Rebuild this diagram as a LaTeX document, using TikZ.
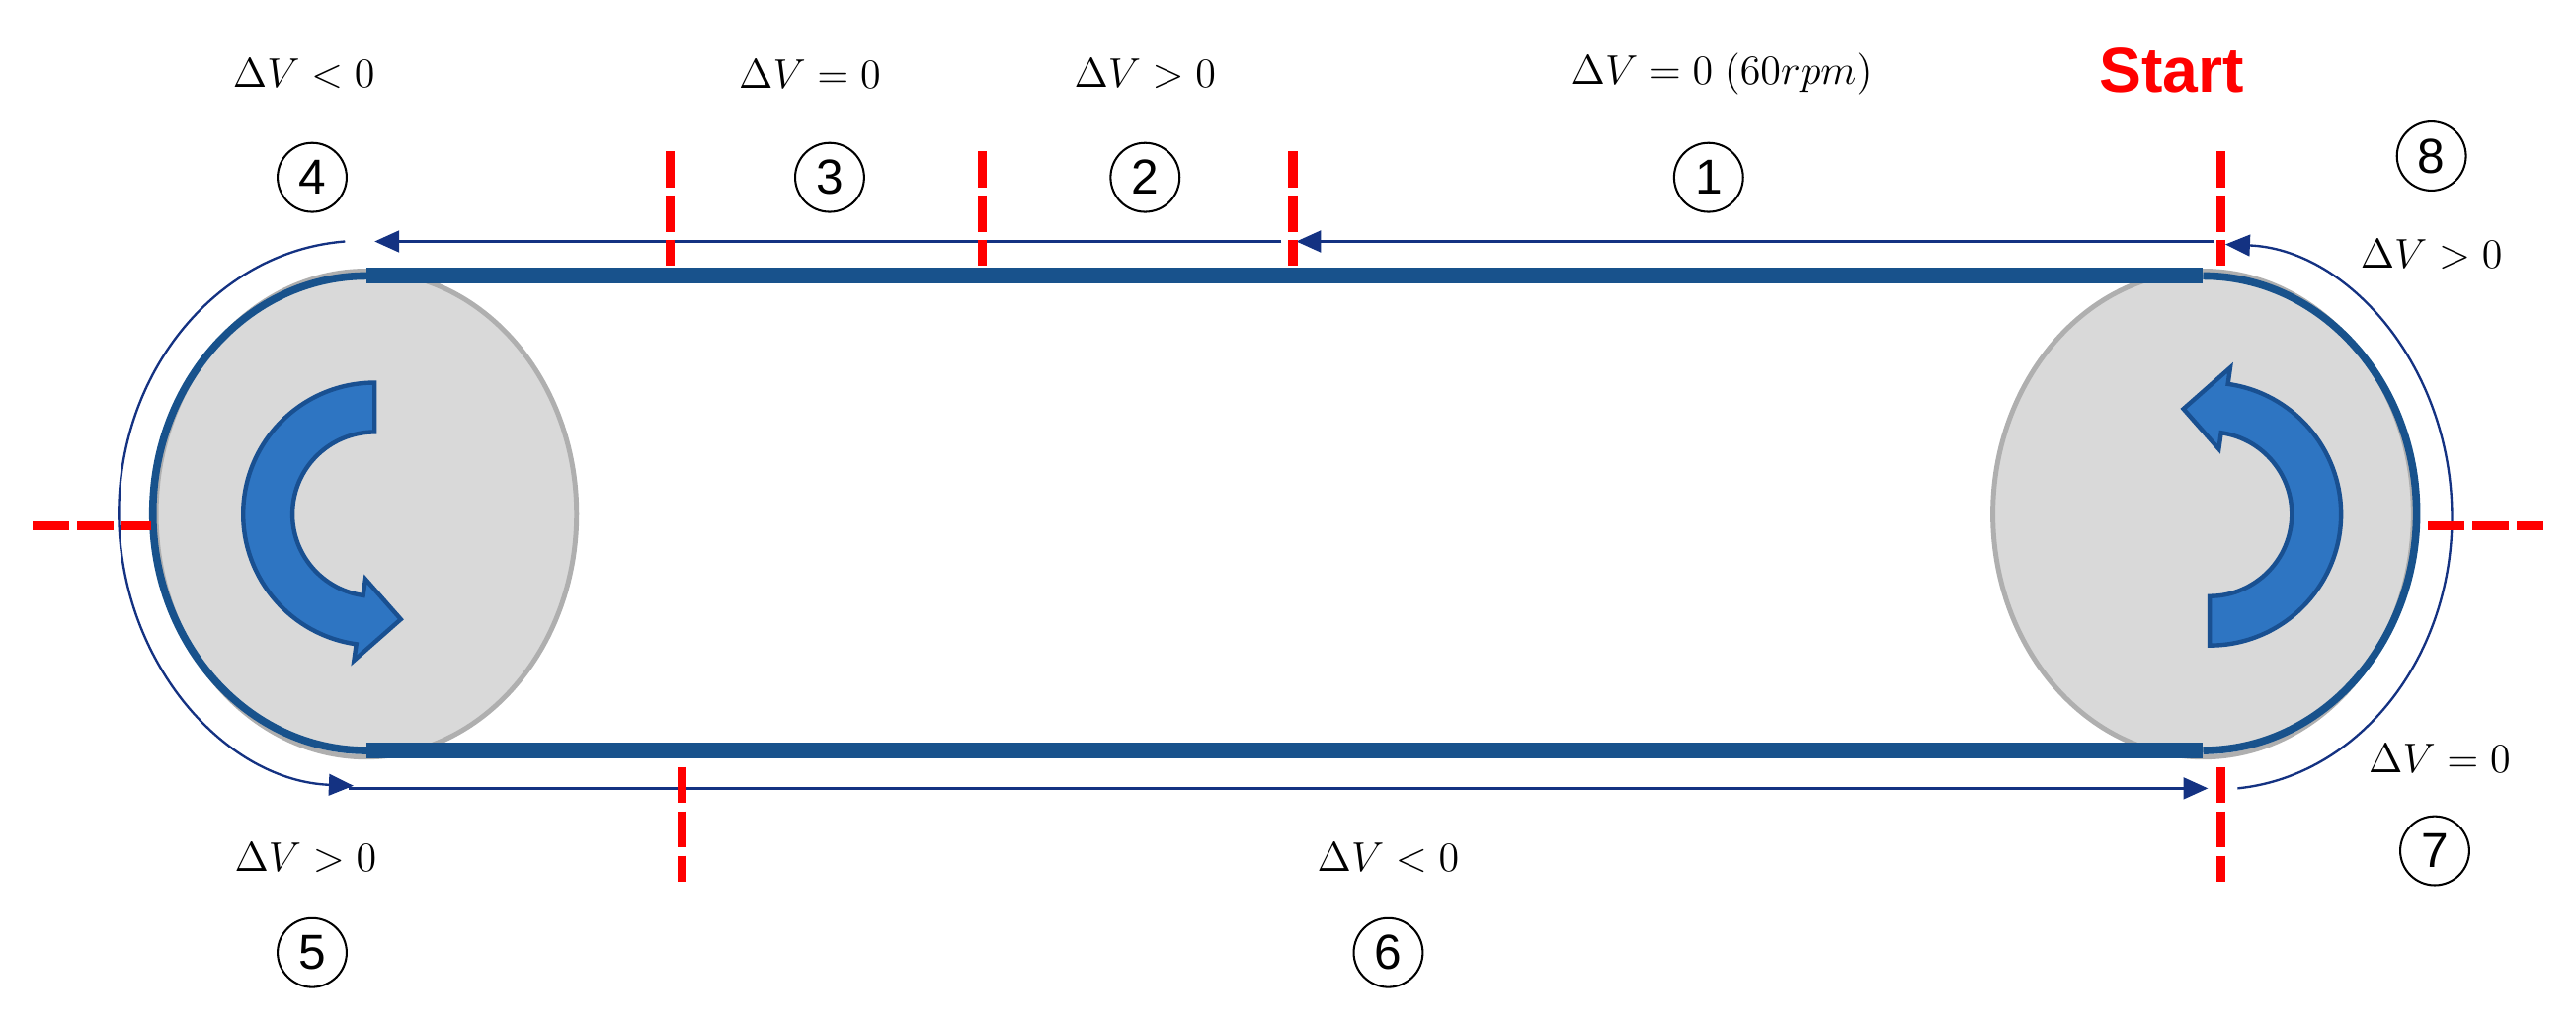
\documentclass[tikz,border=0pt]{standalone}
\usepackage{fontspec}
\setsansfont{Liberation Sans}
\usetikzlibrary{arrows.meta}
\definecolor{beltblue}{RGB}{24,82,140}
\definecolor{thinblue}{RGB}{20,50,130}
\definecolor{rarrow}{RGB}{46,117,194}
\definecolor{rarrowb}{RGB}{25,80,145}
\definecolor{pfill}{RGB}{217,217,217}
\definecolor{pdraw}{RGB}{175,175,175}
\tikzset{
  redcut/.style={red, line width=3.2pt, dash pattern=on 0.44cm off 0.1cm},
  thinarrow/.style={draw=thinblue, line width=1.1pt, -{Triangle[length=0.3cm,width=0.26cm]}},
  arcarrow/.style={draw=thinblue, line width=0.8pt, -{Triangle[length=0.3cm,width=0.26cm]}},
  lbl/.style={font=\fontsize{13.5}{15}\selectfont, inner sep=0pt},
  num/.style={circle, draw, line width=0.7pt, minimum size=0.84cm, inner sep=0pt, font=\sffamily\fontsize{17}{19}\selectfont},
  pulley/.style={fill=pfill, draw=pdraw, line width=1.7pt},
  rotarrow/.style={fill=rarrow, draw=rarrowb, line width=1.5pt, line join=miter}
}
\begin{document}
\begin{tikzpicture}[x=0.02cm,y=0.02cm]
\useasboundingbox (0,0) rectangle (1568,623);
% pulleys
\draw[pulley] (223,310) ellipse [x radius=2.56cm, y radius=2.96cm];
\draw[pulley] (1341,310) ellipse [x radius=2.56cm, y radius=2.96cm];
% belt
\draw[beltblue, line width=5.5pt] (223,455) -- (1341,455);
\draw[beltblue, line width=5.5pt] (223,166) -- (1341,166);
\draw[beltblue, line width=2.6pt] (223,455) arc[start angle=90, end angle=270, x radius=2.6cm, y radius=2.89cm];
\draw[beltblue, line width=2.6pt] (1341,455) arc[start angle=90, end angle=-90, x radius=2.6cm, y radius=2.89cm];
% rotation arrows
\begin{scope}[shift={(228,310)}]
\draw[rotarrow] (90:80) arc[start angle=90, end angle=262, radius=1.6cm] -- (262:90) -- (284:66) -- (262:40) -- (262:50) arc[start angle=262, end angle=90, radius=1cm] -- cycle;
\end{scope}
\begin{scope}[shift={(1345,310)}]
\draw[rotarrow] (-90:80) arc[start angle=-90, end angle=82, radius=1.6cm] -- (82:90) -- (104:66) -- (82:40) -- (82:50) arc[start angle=82, end angle=-90, radius=1cm] -- cycle;
\end{scope}
% thin direction arrows
\coordinate (t1) at (1348,476); \coordinate (t2) at (789,476);
\coordinate (t3) at (780,476); \coordinate (t4) at (228,476);
\coordinate (b1) at (212,143); \coordinate (b2) at (1344,143);
\draw[thinarrow] (t1) -- (t2);
\draw[thinarrow] (t3) -- (t4);
\draw[thinarrow] (b1) -- (b2);
\draw[arcarrow] (210,476) arc[start angle=94, end angle=268, x radius=2.96cm, y radius=3.32cm];
\draw[arcarrow] (1362,143) arc[start angle=-85, end angle=88, x radius=2.86cm, y radius=3.32cm];
% red cuts
\foreach \x in {408,598,787,1352} \draw[redcut] (\x,531) -- (\x,461);
\foreach \x in {415,1352} \draw[redcut] (\x,156) -- (\x,86);
\draw[redcut] (20,303) -- (92,303);
\draw[redcut] (1478,303) -- (1548,303);
% labels
\node[lbl] (l4) at (185,578) {$\Delta V<0$};
\node[lbl] (l3) at (493,578) {$\Delta V=0$};
\node[lbl] (l2) at (697,578) {$\Delta V>0$};
\node[lbl] (l1) at (1048,578) {$\Delta V=0\;(60rpm)$};
\node[font=\sffamily\bfseries\fontsize{22}{24}\selectfont, text=red, inner sep=0pt] (st) at (1322,580) {Start};
\node[lbl] (l8) at (1480,468) {$\Delta V>0$};
\node[lbl] (l7) at (1485,161) {$\Delta V=0$};
\node[lbl] (l5) at (186,101) {$\Delta V>0$};
\node[lbl] (l6) at (845,101) {$\Delta V<0$};
\node[num] (n4) at (190,515) {4};
\node[num] (n3) at (505,515) {3};
\node[num] (n2) at (697,515) {2};
\node[num] (n1) at (1040,515) {1};
\node[num] (n8) at (1480,528) {8};
\node[num] (n7) at (1482,105) {7};
\node[num] (n5) at (190,43) {5};
\node[num] (n6) at (845,43) {6};
\end{tikzpicture}
\end{document}
